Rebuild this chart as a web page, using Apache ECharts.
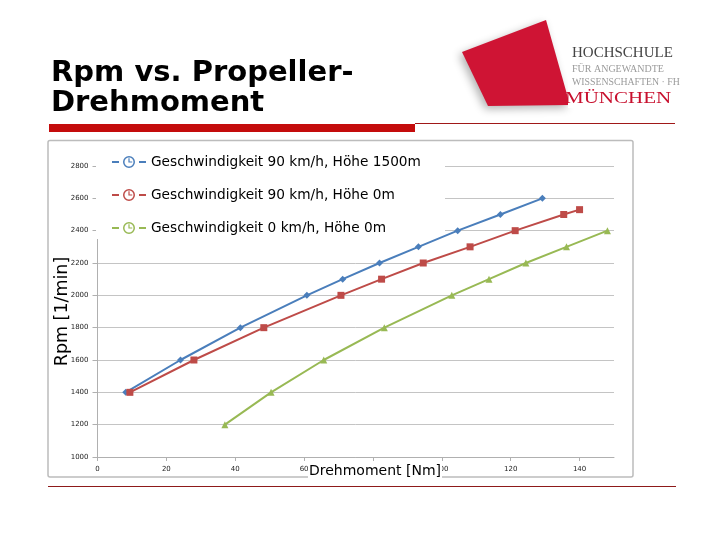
<!DOCTYPE html>
<html>
<head>
<meta charset="utf-8">
<script src="https://cdn.jsdelivr.net/npm/echarts@6/dist/echarts.min.js"></script>
<style>html,body{margin:0;padding:0;background:#fff;}#c{width:720px;height:540px;}</style>
</head>
<body>
<div id="c"></div>
<script>
// ---- data ----
const seriesNames = [
  'Geschwindigkeit 90 km/h, Höhe 1500m',
  'Geschwindigkeit 90 km/h, Höhe 0m',
  'Geschwindigkeit 0 km/h, Höhe 0m'
];
const torque90_1500 = [8.2, 24.1, 41.5, 60.8, 71.2, 81.9, 93.2, 104.6, 117.0, 129.2];
const rpm90_1500    = [1400, 1600, 1800, 2000, 2100, 2200, 2300, 2400, 2500, 2600];
const torque90_0    = [9.4, 28.0, 48.3, 70.7, 82.5, 94.6, 108.2, 121.3, 135.4, 140.0];
const rpm90_0       = [1400, 1600, 1800, 2000, 2100, 2200, 2300, 2400, 2500, 2530];
const torque0_0     = [37.0, 50.4, 65.7, 83.3, 102.9, 113.7, 124.4, 136.2, 148.1];
const rpm0_0        = [1200, 1400, 1600, 1800, 2000, 2100, 2200, 2300, 2400];
const xTickValues   = [0, 20, 40, 60, 80, 100, 120, 140];
const titleText     = 'Rpm vs. Propeller-\nDrehmoment';
const xAxisName     = 'Drehmoment [Nm]';
const yAxisName     = 'Rpm [1/min]';

function pairs(xs, ys) { return xs.map((x, i) => [x, ys[i]]); }

const clockIcon = 'path://M0,6h7v2h-7z M27,6h7v2h-7z M11,7A6,6 0 1,1 23,7A6,6 0 1,1 11,7Z M12.5,7A4.5,4.5 0 1,0 21.5,7A4.5,4.5 0 1,0 12.5,7Z M16.4,3.2h1.2v4.4h-1.2z M17,6.4h3.2v1.2h-3.2z';

const chart = echarts.init(document.getElementById('c'), null, {renderer: 'canvas'});
chart.setOption({
  backgroundColor: '#fff',
  animation: false,
  title: {
    text: titleText,
    left: 46, top: 53,
    textStyle: {fontFamily: 'DejaVu Sans', fontWeight: 'bold', fontSize: 29, lineHeight: 30, color: '#000'}
  },
  grid: {left: 97.5, right: 106, top: 166, bottom: 83},
  legend: {
    orient: 'vertical', left: 112, top: 154, padding: 0,
    itemWidth: 34, itemHeight: 14, itemGap: 17,
    icon: clockIcon,
    textStyle: {fontFamily: 'DejaVu Sans', fontSize: 13.7, lineHeight: 16, color: '#000'},
    data: seriesNames,
    z: 6
  },
  xAxis: {
    type: 'value', min: 0, max: 150, interval: 20,
    axisLine: {lineStyle: {color: '#b0b0b0', width: 1}},
    axisTick: {show: true, length: 4, lineStyle: {color: '#b0b0b0'}, customValues: xTickValues},
    axisLabel: {fontFamily: 'DejaVu Sans', fontSize: 7, color: '#222', margin: 9, customValues: xTickValues},
    splitLine: {show: false}
  },
  yAxis: {
    type: 'value', min: 1000, max: 2800, interval: 200,
    name: yAxisName, nameLocation: 'middle', nameGap: 26, nameMoveOverlap: false,
    nameTextStyle: {fontFamily: 'DejaVu Sans', fontSize: 17.5, color: '#000'},
    axisLine: {show: true, lineStyle: {color: '#b0b0b0', width: 1}},
    axisTick: {show: true, length: 5, lineStyle: {color: '#b0b0b0'}},
    axisLabel: {fontFamily: 'DejaVu Sans', fontSize: 7, color: '#222', margin: 9,
                formatter: v => String(v)},
    splitLine: {lineStyle: {color: '#c4c4c4', width: 1}}
  },
  series: [
    {name: seriesNames[0], type: 'line', data: pairs(torque90_1500, rpm90_1500),
     symbol: 'diamond', symbolSize: 7, color: '#4a7ebb', lineStyle: {width: 2}},
    {name: seriesNames[1], type: 'line', data: pairs(torque90_0, rpm90_0),
     symbol: 'rect', symbolSize: 7, color: '#be4b48', lineStyle: {width: 2}},
    {name: seriesNames[2], type: 'line', data: pairs(torque0_0, rpm0_0),
     symbol: 'triangle', symbolSize: 7, color: '#98b954', lineStyle: {width: 2}}
  ],
  graphic: [
    // chart frame
    {type: 'rect', z: 0, shape: {x: 48, y: 140.5, width: 585, height: 336.5, r: 2},
     style: {fill: 'none', stroke: '#bcbcbc', lineWidth: 1.5}},
    // legend background box
    {type: 'rect', z: 3, shape: {x: 96, y: 146, width: 349, height: 93},
     style: {fill: '#fff'}},
    // x axis name with white box
    {type: 'text', z: 10, x: 308, y: 471,
     style: {text: xAxisName, fontFamily: 'DejaVu Sans', fontSize: 14, fill: '#000',
             verticalAlign: 'middle', backgroundColor: '#fff', padding: [1, 1, 1, 1]}},
    // title bar
    {type: 'rect', z: 1, shape: {x: 49, y: 124, width: 366, height: 8}, style: {fill: '#c40c0c'}},
    {type: 'line', z: 1, shape: {x1: 415, y1: 123.5, x2: 675, y2: 123.5}, style: {stroke: '#a01818', lineWidth: 1}},
    {type: 'line', z: 1, shape: {x1: 48, y1: 486.5, x2: 676, y2: 486.5}, style: {stroke: '#8e1a1a', lineWidth: 1}},
    // logo
    {type: 'polygon', z: 1, shape: {points: [[462, 52], [546, 20], [570, 105], [488, 106]]},
     style: {fill: '#cf1434', shadowBlur: 8, shadowColor: 'rgba(0,0,0,0.3)', shadowOffsetX: -3, shadowOffsetY: 3}},
    {type: 'rect', z: 2, shape: {x: 568, y: 44, width: 112, height: 64}, style: {fill: '#fff'}},
    {type: 'text', z: 3, x: 572, y: 61, style: {text: 'HOCHSCHULE', fontFamily: 'Liberation Serif', fontSize: 15, fill: '#444', verticalAlign: 'bottom'}},
    {type: 'text', z: 3, x: 572, y: 74, style: {text: 'FÜR ANGEWANDTE', fontFamily: 'Liberation Serif', fontSize: 10, fill: '#9a9a9a', verticalAlign: 'bottom'}},
    {type: 'text', z: 3, x: 572, y: 87, style: {text: 'WISSENSCHAFTEN · FH', fontFamily: 'Liberation Serif', fontSize: 9.8, fill: '#9a9a9a', verticalAlign: 'bottom'}},
    {type: 'text', z: 3, x: 565, y: 107, scaleX: 1.2, originX: 0, originY: 0,
     style: {text: 'MÜNCHEN', fontFamily: 'Liberation Serif', fontSize: 17.5, fill: '#c8102e', verticalAlign: 'bottom'}}
  ]
});
</script>
</body>
</html>
